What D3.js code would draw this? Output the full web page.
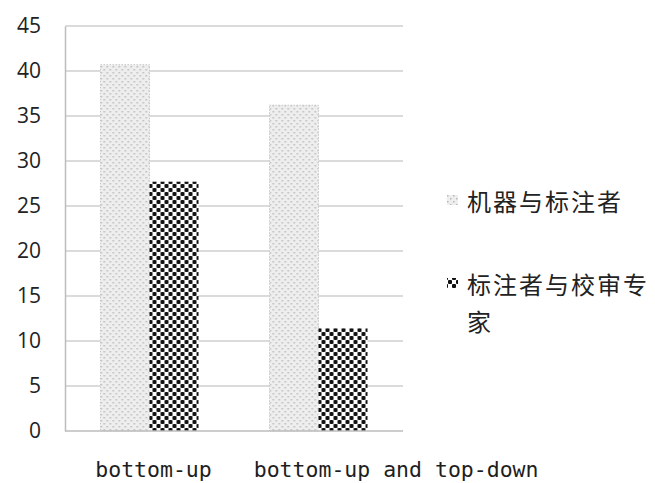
<!DOCTYPE html>
<html>
<head>
<meta charset="utf-8">
<script src="https://cdn.jsdelivr.net/npm/d3@7"></script>
<style>
  html, body { margin: 0; padding: 0; background: #fff; }
  svg { display: block; }
</style>
</head>
<body>
<svg id="chart" width="655" height="483"></svg>
<script>
// Categories, series and values
const categories = ["bottom-up", "bottom-up and top-down"];
const seriesNames = ["机器与标注者", "标注者与校审专家"];
const machineAnnotator = [40.7, 36.2];   // 机器与标注者
const annotatorExpert = [27.7, 11.4];    // 标注者与校审专家
const yTicks = [0, 5, 10, 15, 20, 25, 30, 35, 40, 45];

const seriesValues = [machineAnnotator, annotatorExpert];

const svg = d3.select("#chart");
const plot = { left: 65, right: 403, top: 26, bottom: 431 };

// Fill patterns: light dotted grid and large checkerboard
const defs = svg.append("defs");
const dotPat = defs.append("pattern")
  .attr("id", "dotgrid").attr("patternUnits", "userSpaceOnUse")
  .attr("width", 6).attr("height", 6);
dotPat.append("rect").attr("width", 6).attr("height", 6).attr("fill", "#eeeeee");
dotPat.append("rect").attr("x", 0).attr("y", 0).attr("width", 1.5).attr("height", 1.5).attr("fill", "#b8b8b8");
dotPat.append("rect").attr("x", 3).attr("y", 3).attr("width", 1.5).attr("height", 1.5).attr("fill", "#b8b8b8");

const checkPat = defs.append("pattern")
  .attr("id", "checker").attr("patternUnits", "userSpaceOnUse")
  .attr("width", 8).attr("height", 8);
checkPat.append("rect").attr("width", 8).attr("height", 8).attr("fill", "#ffffff");
checkPat.append("rect").attr("x", 0).attr("y", 0).attr("width", 4).attr("height", 4).attr("rx", 1).attr("fill", "#111");
checkPat.append("rect").attr("x", 4).attr("y", 4).attr("width", 4).attr("height", 4).attr("rx", 1).attr("fill", "#111");

const fills = ["url(#dotgrid)", "url(#checker)"];

// Scales
const y = d3.scaleLinear().domain([0, 45]).range([plot.bottom, plot.top]);
const x0 = d3.scaleBand().domain(categories).range([plot.left, plot.right]).padding(0);
const groupWidth = 98;
const x1 = d3.scaleBand().domain(d3.range(seriesNames.length)).range([0, groupWidth]).padding(0);
const groupOffset = (x0.bandwidth() - groupWidth) / 2;

// Horizontal gridlines
svg.append("g")
  .selectAll("line")
  .data(yTicks.filter(t => t > 0))
  .join("line")
  .attr("x1", plot.left).attr("x2", plot.right)
  .attr("y1", d => y(d)).attr("y2", d => y(d))
  .attr("stroke", "#cfcfcf").attr("stroke-width", 1.5);

// Y axis
const yAxis = svg.append("g")
  .attr("transform", `translate(${plot.left},0)`)
  .call(d3.axisLeft(y).tickValues(yTicks).tickSize(0).tickPadding(24));
yAxis.select(".domain").attr("stroke", "#bdbdbd").attr("stroke-width", 1.5);
yAxis.selectAll("text")
  .attr("font-family", "'Open Sans', sans-serif")
  .attr("font-size", 21)
  .attr("fill", "#222");

// Bars
const groups = svg.append("g")
  .selectAll("g")
  .data(categories)
  .join("g")
  .attr("transform", d => `translate(${x0(d) + groupOffset},0)`);

groups.selectAll("rect")
  .data((c, ci) => seriesValues.map((vals, si) => ({ si, v: vals[ci] })))
  .join("rect")
  .attr("x", d => x1(d.si))
  .attr("width", x1.bandwidth())
  .attr("y", d => y(d.v))
  .attr("height", d => y(0) - y(d.v))
  .attr("fill", d => fills[d.si])
  .attr("stroke", d => d.si === 0 ? "#c8c8c8" : "none")
  .attr("stroke-width", 1)
  .attr("stroke-dasharray", "1.5,1.5");

// X axis baseline
svg.append("line")
  .attr("x1", plot.left).attr("x2", plot.right)
  .attr("y1", y(0)).attr("y2", y(0))
  .attr("stroke", "#bdbdbd").attr("stroke-width", 1.5);

// Category labels; a long label is pushed right so it clears its neighbour
const labelFont = "'DejaVu Sans Mono', 'Liberation Mono', monospace";
const labelSize = 21.5;
const charW = labelSize * 0.602;
let prevEnd = -Infinity;
const labelGap = 42;
categories.forEach(c => {
  const w = c.length * charW;
  let left = x0(c) + x0.bandwidth() / 2 - w / 2 + 4;
  if (left < prevEnd + labelGap) left = prevEnd + labelGap;
  svg.append("text")
    .attr("x", left).attr("y", 477)
    .attr("font-family", labelFont)
    .attr("font-size", labelSize)
    .attr("fill", "#1e1e1e")
    .text(c);
  prevEnd = left + w;
});

// Legend
const legendFont = "'Noto Sans CJK SC', sans-serif";
const legendItems = [
  { lines: ["机器与标注者"], cy: 200 },
  { lines: ["标注者与校审专", "家"], cy: 283 }
];
legendItems.forEach((item, i) => {
  svg.append("rect")
    .attr("x", 447).attr("y", item.cy - 5)
    .attr("width", 11).attr("height", 10)
    .attr("fill", fills[i]);
  item.lines.forEach((ln, li) => {
    svg.append("text")
      .attr("x", 467).attr("y", item.cy + li * 37)
      .attr("dominant-baseline", "central")
      .attr("font-family", legendFont)
      .attr("font-size", 24)
      .attr("letter-spacing", 2)
      .attr("fill", "#222")
      .text(ln);
  });
});
</script>
</body>
</html>
